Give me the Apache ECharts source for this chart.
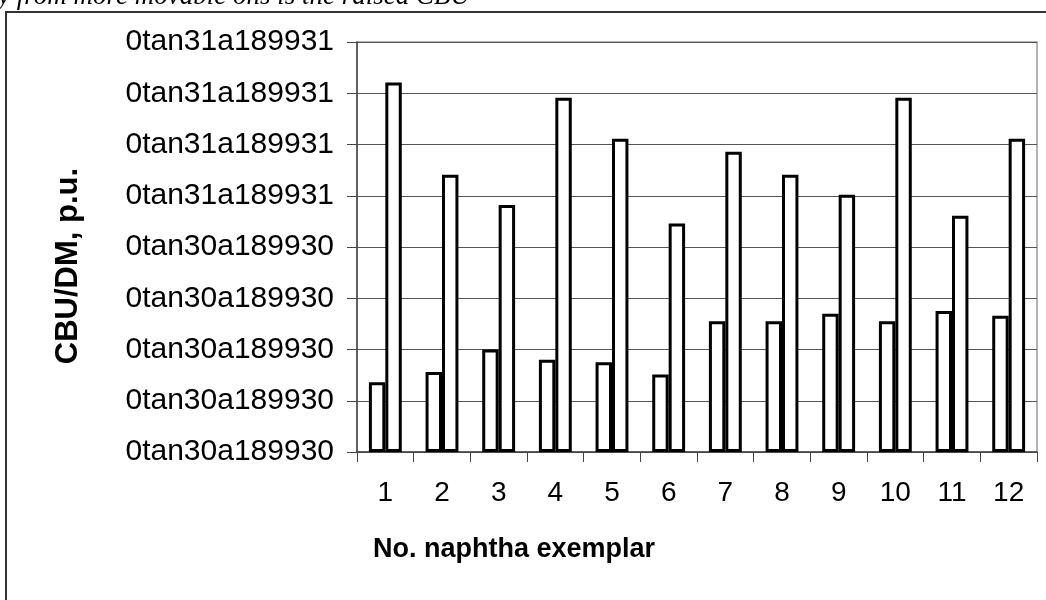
<!DOCTYPE html>
<html>
<head>
<meta charset="utf-8">
<script src="https://cdn.jsdelivr.net/npm/echarts@6/dist/echarts.min.js"></script>
<style>
html,body{margin:0;padding:0;background:#fff;}
#chart{width:1046px;height:600px;}
</style>
</head>
<body>
<div id="chart"></div>
<script>
var categories = ['1','2','3','4','5','6','7','8','9','10','11','12'];
var seriesA = [1.36, 1.56, 2.00, 1.80, 1.75, 1.51, 2.55, 2.55, 2.70, 2.55, 2.75, 2.66];
var seriesB = [7.21, 5.41, 4.82, 6.91, 6.11, 4.46, 5.86, 5.41, 5.02, 6.91, 4.61, 6.11];
var yTickLabels = ['0tan30a189930','0tan30a189930','0tan30a189930','0tan30a189930','0tan30a189930',
                   '0tan31a189931','0tan31a189931','0tan31a189931','0tan31a189931'];
var xTitle = 'No. naphtha exemplar';
var yTitle = 'CBU/DM, p.u.';
var captionText = 'y from more movable ons is the raised CBU';

var chart = echarts.init(document.getElementById('chart'), null, {renderer:'canvas'});
var barStyle = {color:'#ffffff', borderColor:'#000000', borderWidth:3};
chart.setOption({
  animation:false,
  backgroundColor:'#ffffff',
  grid:{left:357, right:9, top:42, bottom:148, show:true, borderColor:'#9a9a9a', borderWidth:1.5},
  xAxis:{
    type:'category', data:categories,
    axisLine:{lineStyle:{color:'#444', width:1.5}},
    axisTick:{show:true, alignWithLabel:false, length:10, lineStyle:{color:'#444', width:1}},
    axisLabel:{color:'#000', fontFamily:'Liberation Sans', fontSize:28, margin:27, interval:0}
  },
  yAxis:{
    type:'value', min:0, max:8, interval:1,
    axisLine:{show:true, lineStyle:{color:'#444', width:1.5}},
    axisTick:{show:true, length:10, lineStyle:{color:'#444', width:1}},
    splitLine:{show:true, lineStyle:{color:'#555', width:1}},
    axisLabel:{color:'#000', fontFamily:'Liberation Sans', fontSize:30, margin:23,
      formatter:function(v){ return yTickLabels[Math.round(v)]; }}
  },
  series:[
    {type:'bar', data:seriesA, barWidth:'29%', barGap:'0%', itemStyle:barStyle},
    {type:'bar', data:seriesB, barWidth:'29%', barGap:'0%', itemStyle:barStyle}
  ],
  graphic:[
    {type:'rect', shape:{x:6, y:12, width:1200, height:800}, style:{fill:'none', stroke:'#333', lineWidth:2}, silent:true},
    {type:'text', x:-2, y:10, style:{text:captionText, font:'italic 27px "Liberation Serif"', fill:'#000', textVerticalAlign:'bottom'}},
    {type:'text', x:514, y:550, style:{text:xTitle, font:'bold 27px "Liberation Sans"', fill:'#000', textAlign:'center', textVerticalAlign:'middle'}},
    {type:'text', x:68, y:266, rotation:Math.PI/2, style:{text:yTitle, font:'bold 31px "Liberation Sans"', fill:'#000', textAlign:'center', textVerticalAlign:'middle'}}
  ]
});
</script>
</body>
</html>
